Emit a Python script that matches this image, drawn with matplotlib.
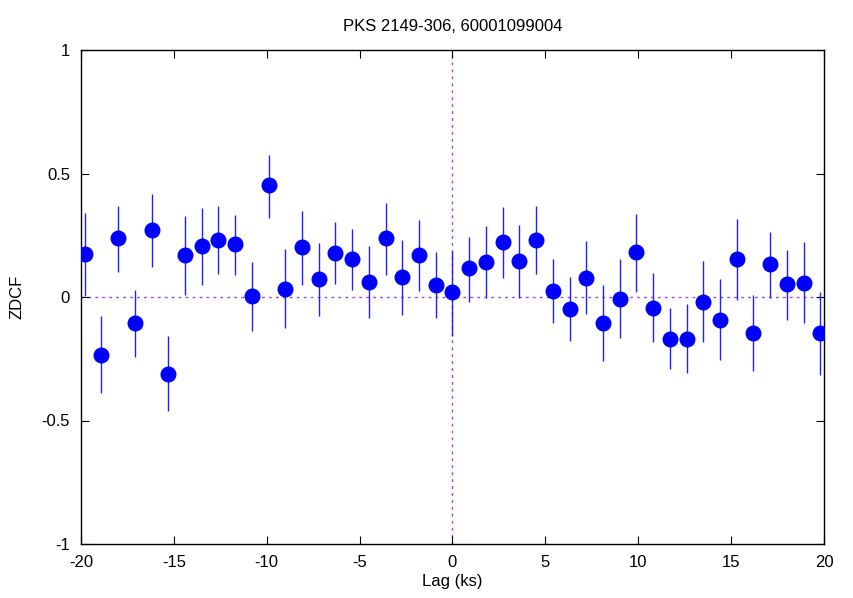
import matplotlib
matplotlib.use('Agg')
import matplotlib.pyplot as plt

plt.rcParams['font.family'] = ['Liberation Sans', 'DejaVu Sans']

# ZDCF points
lag = [-19.8, -18.9, -18.0, -17.1, -16.2, -15.3, -14.4, -13.5, -12.6, -11.7,
       -10.8, -9.9, -9.0, -8.1, -7.2, -6.3, -5.4, -4.5, -3.6, -2.7,
       -1.8, -0.9, 0.0, 0.9, 1.8, 2.7, 3.6, 4.5, 5.4, 6.3,
       7.2, 8.1, 9.0, 9.9, 10.8, 11.7, 12.6, 13.5, 14.4, 15.3,
       16.2, 17.1, 18.0, 18.9, 19.8]
zdcf = [0.174, -0.235, 0.238, -0.107, 0.273, -0.313, 0.171, 0.208, 0.232, 0.213,
        0.003, 0.452, 0.034, 0.201, 0.072, 0.179, 0.154, 0.061, 0.238, 0.080,
        0.171, 0.050, 0.019, 0.116, 0.142, 0.224, 0.146, 0.232, 0.024, -0.049,
        0.078, -0.107, -0.008, 0.181, -0.043, -0.169, -0.170, -0.019, -0.094, 0.154,
        -0.147, 0.132, 0.051, 0.058, -0.147]
err_lo = [0.17, 0.152, 0.136, 0.135, 0.15, 0.15, 0.163, 0.161, 0.14, 0.125,
          0.142, 0.133, 0.158, 0.152, 0.149, 0.126, 0.126, 0.145, 0.148, 0.152,
          0.148, 0.134, 0.177, 0.135, 0.147, 0.146, 0.151, 0.14, 0.128, 0.129,
          0.148, 0.153, 0.159, 0.159, 0.14, 0.121, 0.139, 0.162, 0.162, 0.165,
          0.151, 0.135, 0.143, 0.165, 0.169]
err_hi = [0.166, 0.159, 0.13, 0.135, 0.143, 0.154, 0.158, 0.152, 0.136, 0.119,
          0.14, 0.123, 0.159, 0.147, 0.148, 0.125, 0.123, 0.145, 0.141, 0.15,
          0.142, 0.132, 0.168, 0.128, 0.144, 0.14, 0.147, 0.136, 0.129, 0.13,
          0.15, 0.156, 0.161, 0.154, 0.139, 0.126, 0.142, 0.164, 0.166, 0.161,
          0.155, 0.132, 0.139, 0.165, 0.167]

fig = plt.figure(figsize=(8.54, 5.98), dpi=100)
ax = fig.add_axes([81 / 854, 54 / 598, 743 / 854, 494 / 598])

ax.axhline(0, color='#a845e8', lw=1, ls=(0, (2, 3)), zorder=1)
ax.axvline(0, color='#c030f0', lw=1, ls=(0, (2, 3)), zorder=1)

ax.errorbar(lag, zdcf, yerr=[err_lo, err_hi], fmt='o', color='blue',
            ecolor='#2020ff', elinewidth=1, capsize=0, markersize=10.5, zorder=3)

ax.set_xlim(-20, 20)
ax.set_ylim(-1, 1)
ax.set_xticks([-20, -15, -10, -5, 0, 5, 10, 15, 20])
ax.set_yticks([-1, -0.5, 0, 0.5, 1])
ax.set_yticklabels(['-1', '-0.5', '0', '0.5', '1'])
ax.set_xticklabels(['-20', '-15', '-10', '-5', '0', '5', '10', '15', '20'])
ax.tick_params(direction='in', top=True, right=True, length=6, width=0.8,
               labelsize=12, pad=8)
for s in ax.spines.values():
    s.set_linewidth(1)

ax.set_xlabel('Lag (ks)', fontsize=12, labelpad=3)
ax.set_ylabel('ZDCF', fontsize=12, labelpad=12)
ax.set_title('PKS 2149-306, 60001099004', fontsize=12, pad=14)

fig.savefig('out.png', dpi=100)
